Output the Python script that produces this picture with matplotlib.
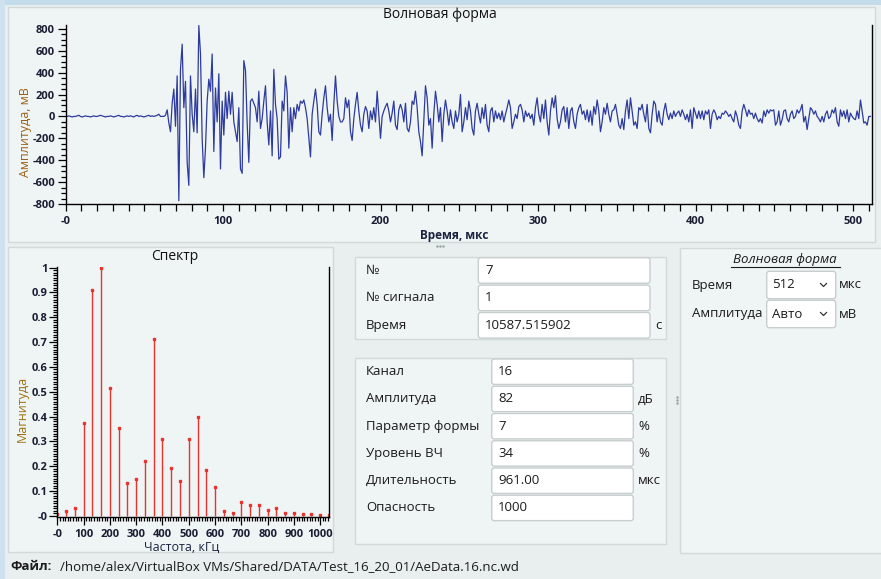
import numpy as np
import matplotlib
matplotlib.use("Agg")
import matplotlib.pyplot as plt
from matplotlib.patches import Rectangle, FancyBboxPatch
from matplotlib.ticker import MultipleLocator

plt.rcParams['font.family'] = ['Open Sans', 'DejaVu Sans']
plt.rcParams['axes.unicode_minus'] = False

W, H = 881, 579

# --- waveform, mV, one sample every SAMPLE_US microseconds ---
SAMPLE_US = 1.058
wave_quiet = [0, 0, 5, 0, -5, 0, 0, 5, 10, 0, -5, 0, 5, 0, 0, -5, 0, 5, 0, 0,
              5, 10, 5, 0, -5, 0, 0, 5, 0, -5, 0, 5, 10, 0, 0, -5, 0, 5, 0, 5,
              0, -5, 5, 10, 0, 5, 0, -5, 0, 5, 10, 0, 5, 0, 5, 10, 20]
wave_burst = [0, 0, 0, 10, 60, -60, -140, 120, 250, -90, 370, -770, 430, 660, 80, 320,
              -420, -630, 370, 20, -140, 250, -150, 830, 570, -200, -560, -290, 140, 340,
              230, 570, -320, 260, -50, 390, -480, 140, -170, 220, -20, 230, 20, 220, -50,
              -140, -230, 80, -480, -520, 510, 420, -60, -420, 140, 160, 120, 80, -50, 230,
              -110, -20, 140, 280, -50, -260, 50, -360, 430, 110, -20, -390]
wave_decay1 = [-370, 140, 50, 370, 220, -290, 80, -140, 80, -20, 110, 50, 140, 120, 150,
               80, -20, -200, -370, 20, 140, 250, 110, -140, -170, 20, 170, 280, 80, -50,
               20, -220, 110, 370, 140, 0, -50, -50, -20, 170, 80, 150, -140, -220, -20,
               110, 220, 50, -80, -140, 20, 90, 50, -110, 50, -30, 80, -50, 230, 20, -200,
               0, 50, 90, 120, 50, -50, 30, 140, -80, -120, 60]
wave_decay2 = [110, 60, -50, 120, -110, -140, -50, 140, 110, 230, 80, -140, -230, -360, -50,
               280, 170, -80, -20, -290, 20, 230, 110, -50, 80, -230, 20, 150, 50, -80, 60,
               -50, -110, 50, -50, 20, 200, -140, -50, 80, -30, 140, 50, -110, -170, 50, 120,
               20, -60, 80, -20, 110, -80, -140, 50, 80, -50, 50, -20, 30, -30, 50, -50, 20,
               80, 150, 80, -110, -50, 20, -20, 90]
wave_tail1 = [110, 60, -50, 50, 0, 30, -20, 20, -80, 80, 170, 20, -50, 110, -20, 150, -50,
              -170, 50, 170, 80, 190, -20, -110, -50, 60, 90, -50, 80, -110, 50, 80, -50,
              -110, 20, 80, 110, 20, 50, -30, 60, -50, 50, -80, 90, 20, 150, 50, -140, -50,
              80, 20, 120, 20, -50, 50, 60, 110, 20, -80, -110, -20, -120, 50, 150, -20, 170,
              50, -80, -50, -110, 80]
wave_tail2 = [60, 110, 20, -50, 110, -110, -150, 20, 140, 110, -50, 50, -50, -80, 50, 120,
              20, -30, 30, -20, 50, 0, 30, 50, 0, 60, 20, -30, 20, -50, 60, -110, 80, 30, -20,
              50, -20, 50, -30, 50, 20, 60, -110, 20, 60, 30, -30, 0, -20, 30, 20, 50, 30, 0,
              20, -20, -50, 50, 0, -80, -110, 50, 110, 60, 0, 60, 20, 30, -20, 30, -20, -50]
wave_tail3 = [-20, -60, 50, 0, 60, 30, 60, 50, 60, -80, -50, 50, -80, -30, 50, 60, -20, -50,
              20, 50, -20, 0, 60, 30, 60, 110, -50, 0, -120, -20, 80, 60, 20, 50, 0, -20, -50,
              0, -50, 20, 50, -20, 0, 60, 30, 80, -50, -90, 60, 0, 50, -20, 60, -50, 30, 0,
              -20, -30, 50, -20, 150, 50, -60, -50, -80, 0, 0]

wave_mv = (wave_quiet + wave_burst + wave_decay1 + wave_decay2
           + wave_tail1 + wave_tail2 + wave_tail3)
wave_ticks = [-800, -600, -400, -200, 0, 200, 400, 600, 800]
wave_tick_labels = ['-800', '-600', '-400', '-200', '0', '200', '400', '600', '800']
time_ticks = [0, 100, 200, 300, 400, 500]
time_tick_labels = ['-0', '100', '200', '300', '400', '500']

# --- spectrum ---
SPEC_STEP_KHZ = 1000 / 30
spec_mag = [0.005, 0.019, 0.03, 0.372, 0.911, 1.0, 0.513, 0.352, 0.133, 0.15, 0.22,
            0.714, 0.311, 0.193, 0.14, 0.309, 0.396, 0.185, 0.114, 0.019, 0.009, 0.054,
            0.044, 0.044, 0.023, 0.032, 0.012, 0.012, 0.008, 0.005, 0.003, 0.001]
mag_ticks = [0, 0.1, 0.2, 0.3, 0.4, 0.5, 0.6, 0.7, 0.8, 0.9, 1.0]
mag_tick_labels = ['-0', '0.1', '0.2', '0.3', '0.4', '0.5', '0.6', '0.7', '0.8', '0.9', '1']
freq_ticks = [0, 100, 200, 300, 400, 500, 600, 700, 800, 900, 1000]
freq_tick_labels = ['-0', '100', '200', '300', '400', '500', '600', '700', '800', '900', '1000']

# --- form fields ---
info_labels = ['№', '№ сигнала', 'Время']
info_values = ['7', '1', '10587.515902']
info_units = ['', '', 'с']
param_labels = ['Канал', 'Амплитуда', 'Параметр формы', 'Уровень ВЧ', 'Длительность', 'Опасность']
param_values = ['16', '82', '7', '34', '961.00', '1000']
param_units = ['', 'дБ', '%', '%', 'мкс', '']
view_labels = ['Время', 'Амплитуда']
view_values = ['512', 'Авто']
view_units = ['мкс', 'мВ']
file_path = '/home/alex/VirtualBox VMs/Shared/DATA/Test_16_20_01/AeData.16.nc.wd'

WINDOW_BG = '#e9efef'
PANEL_BG = '#eff4f4'
FRAME = '#d2d9d9'
TICK_COLOR = '#1a1d33'
WAVE_COLOR = '#2e3b9e'
STEM_COLOR = '#e8332e'


def px_axes(fig, x0, y0, x1, y1):
    return fig.add_axes([x0 / W, 1 - y1 / H, (x1 - x0) / W, (y1 - y0) / H])


def frame(ax, x0, y0, x1, y1):
    ax.add_patch(Rectangle((x0, y0), x1 - x0, y1 - y0, facecolor=PANEL_BG,
                           edgecolor=FRAME, lw=1))


def entry(ax, x0, y0, x1, y1):
    ax.add_patch(FancyBboxPatch((x0, y0), x1 - x0, y1 - y0,
                                boxstyle='round,pad=0,rounding_size=2.5',
                                facecolor='white', edgecolor='#c8cdcd', lw=1))


def style_plot_axes(ax):
    ax.set_facecolor('none')
    ax.spines['top'].set_visible(False)
    for side in ['left', 'bottom', 'right']:
        ax.spines[side].set_color('black')
        ax.spines[side].set_linewidth(1.0)
    ax.tick_params(which='both', direction='out', colors='black', labelcolor=TICK_COLOR,
                   labelsize=8, pad=1.5, width=0.9)
    ax.tick_params(which='major', length=6)
    ax.tick_params(which='minor', length=3.5)


fig = plt.figure(figsize=(W / 100, H / 100), dpi=100)
fig.patch.set_facecolor(WINDOW_BG)

bg = fig.add_axes([0, 0, 1, 1])
bg.set_xlim(0, W)
bg.set_ylim(H, 0)
bg.axis('off')
bg.add_patch(Rectangle((0, 0), W, 5, facecolor='#c3dcea', edgecolor='none'))
bg.add_patch(Rectangle((0, 0), 5, H, facecolor='#cde2ee', edgecolor='none'))

# panels
frame(bg, 8, 7, 875, 242)
frame(bg, 8, 247, 333, 552)
frame(bg, 355, 256.7, 666, 339.3)
frame(bg, 355, 357.7, 666, 544.3)
frame(bg, 680, 247.7, 895, 553.3)

# splitter handles
bg.scatter([437, 440, 443], [245.5] * 3, s=0.6, color='#9aa3a3')
bg.scatter([677] * 3, [397, 400, 403], s=0.6, color='#9aa3a3')

# ---------------- waveform ----------------
ax = px_axes(fig, 65.5, 25, 872, 204)
style_plot_axes(ax)
t_us = np.arange(len(wave_mv)) * SAMPLE_US
ax.plot(t_us, wave_mv, color=WAVE_COLOR, lw=0.9)
ax.set_xlim(0, 512)
ax.set_ylim(-800, 835)
ax.set_yticks(wave_ticks, wave_tick_labels, fontweight='bold')
ax.set_xticks(time_ticks, time_tick_labels, fontweight='bold')
ax.yaxis.set_minor_locator(MultipleLocator(50))
ax.xaxis.set_minor_locator(MultipleLocator(10))
ax.tick_params(axis='x', which='both', length=5)
ax.tick_params(axis='x', pad=4)

bg.text(440, 15, 'Волновая форма', ha='center', va='center', fontsize=10, color='#111111')
bg.text(454, 236, 'Время, мкс', ha='center', va='center', fontsize=8.5,
        fontweight='bold', color='#1c2340')
bg.text(26, 132, 'Амплитуда, мВ', ha='center', va='center', rotation=90,
        fontsize=9, color='#9c6014')

# ---------------- spectrum ----------------
ax2 = px_axes(fig, 57.3, 266.7, 329, 516.7)
style_plot_axes(ax2)
freq_khz = np.arange(len(spec_mag)) * SPEC_STEP_KHZ
ax2.vlines(freq_khz, 0, spec_mag, color=STEM_COLOR, lw=1.0)
ax2.plot(freq_khz, spec_mag, 's', ms=1.8, color=STEM_COLOR)
ax2.set_xlim(0, freq_khz[-1])
ax2.set_ylim(-0.004, 1.004)
ax2.set_yticks(mag_ticks, mag_tick_labels, fontweight='bold')
ax2.set_xticks(freq_ticks, freq_tick_labels, fontweight='bold')
ax2.yaxis.set_minor_locator(MultipleLocator(0.01))
ax2.xaxis.set_minor_locator(MultipleLocator(10))
ax2.tick_params(which='minor', length=3)
ax2.tick_params(axis='y', pad=1)
ax2.tick_params(axis='x', pad=3)

bg.text(175, 257, 'Спектр', ha='center', va='center', fontsize=10, color='#111111')
bg.text(182, 547, 'Частота, кГц', ha='center', va='center', fontsize=9, color='#1c2340')
bg.text(22, 409, 'Магнитуда', ha='center', va='center', rotation=90,
        fontsize=9, color='#a0700f')

# ---------------- info panel ----------------
TEXT_SIZE = 9.5
TEXT_COLOR = '#1b1b1b'
for i, (lab, val, unit) in enumerate(zip(info_labels, info_values, info_units)):
    yc = 270.5 + i * 27.4
    entry(bg, 478.3, yc - 12.8, 650, yc + 12.8)
    bg.text(366, yc, lab, ha='left', va='center', fontsize=TEXT_SIZE, color=TEXT_COLOR)
    bg.text(485, yc, val, ha='left', va='center', fontsize=TEXT_SIZE, color=TEXT_COLOR)
    if unit:
        bg.text(655, yc, unit, ha='left', va='center', fontsize=TEXT_SIZE, color=TEXT_COLOR)

for i, (lab, val, unit) in enumerate(zip(param_labels, param_values, param_units)):
    yc = 371.7 + i * 27.25
    entry(bg, 491.7, yc - 12.7, 633.3, yc + 12.7)
    bg.text(366, yc, lab, ha='left', va='center', fontsize=TEXT_SIZE, color=TEXT_COLOR)
    bg.text(498, yc, val, ha='left', va='center', fontsize=TEXT_SIZE, color=TEXT_COLOR)
    if unit:
        bg.text(638, yc, unit, ha='left', va='center', fontsize=TEXT_SIZE, color=TEXT_COLOR)

# ---------------- view settings panel ----------------
bg.text(785, 259, 'Волновая форма', ha='center', va='center', fontsize=TEXT_SIZE,
        style='italic', color=TEXT_COLOR)
bg.plot([731, 840], [266.5, 266.5], color=TEXT_COLOR, lw=0.8)
for i, (lab, val, unit) in enumerate(zip(view_labels, view_values, view_units)):
    yc = 285 + i * 29
    entry(bg, 766.7, yc - 13.7, 835.7, yc + 13.7)
    bg.text(692, yc, lab, ha='left', va='center', fontsize=TEXT_SIZE, color=TEXT_COLOR)
    bg.text(772, yc, val, ha='left', va='center', fontsize=TEXT_SIZE, color=TEXT_COLOR)
    bg.plot([820.5, 823.5, 826.5], [yc - 1.5, yc + 1.5, yc - 1.5], color='#333333', lw=0.9)
    bg.text(839, yc, unit, ha='left', va='center', fontsize=TEXT_SIZE, color=TEXT_COLOR)

# file line
bg.text(10, 566.7, 'Файл:', ha='left', va='center', fontsize=TEXT_SIZE,
        fontweight='bold', color=TEXT_COLOR)
bg.text(59.5, 566.7, file_path, ha='left', va='center', fontsize=TEXT_SIZE, color=TEXT_COLOR)

fig.savefig('out.png', dpi=100, facecolor=fig.get_facecolor())
